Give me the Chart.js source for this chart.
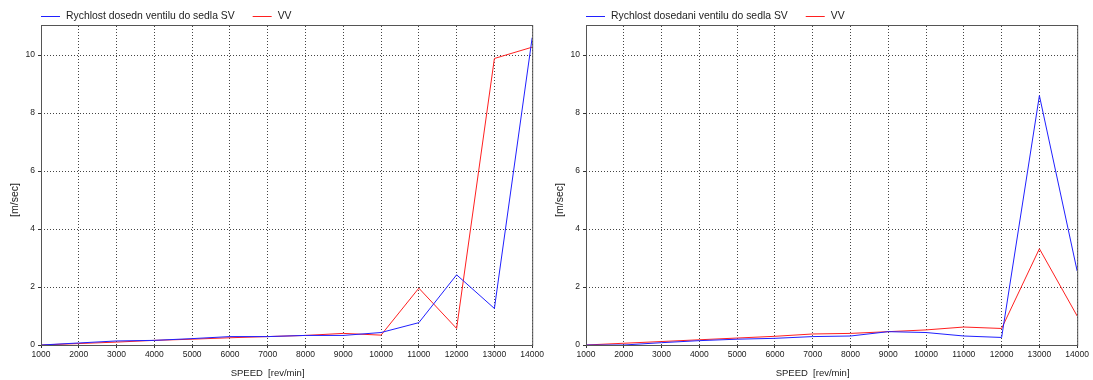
<!DOCTYPE html>
<html>
<head>
<meta charset="utf-8">
<script src="https://cdn.jsdelivr.net/npm/chart.js@4"></script>
<style>
  html, body { margin: 0; padding: 0; background: #fff; }
  #wrap { position: relative; width: 1093px; height: 380px; }
  canvas { position: absolute; top: 0; }
</style>
</head>
<body>
<div id="wrap">
  <canvas id="leftChart" width="546" height="380" style="left:0px"></canvas>
  <canvas id="rightChart" width="546" height="380" style="left:545px"></canvas>
</div>
<script>
// speed axis values (rev/min)
const SPEED = [1000, 2000, 3000, 4000, 5000, 6000, 7000, 8000, 9000, 10000, 11000, 12000, 13000, 14000];

// left chart: Rychlost dosedn ventilu do sedla SV / VV
const LEFT_SV = [0, 0.07, 0.14, 0.16, 0.22, 0.29, 0.29, 0.33, 0.33, 0.43, 0.77, 2.42, 1.26, 10.6];
const LEFT_VV = [0, 0.05, 0.10, 0.16, 0.20, 0.25, 0.29, 0.33, 0.40, 0.34, 1.96, 0.57, 9.88, 10.27];

// right chart: Rychlost dosedani ventilu do sedla SV / VV
const RIGHT_SV = [0, 0.0, 0.08, 0.15, 0.20, 0.23, 0.29, 0.31, 0.46, 0.43, 0.31, 0.26, 8.6, 2.55];
const RIGHT_VV = [0, 0.06, 0.12, 0.18, 0.24, 0.30, 0.38, 0.40, 0.46, 0.52, 0.62, 0.57, 3.32, 1.0];

const Y_TICKS = [0, 2, 4, 6, 8, 10];
const X_TITLE = "SPEED  [rev/min]";
const Y_TITLE = "[m/sec]";
const FONT = "'Liberation Sans', Arial, sans-serif";

function toPoints(values) {
    return SPEED.map((s, i) => ({ x: s, y: values[i] }));
}

// frame around the plot, legend on top left, axis titles
const framePlugin = {
    id: "frame",
    afterDraw(chart) {
        const { ctx, chartArea: a } = chart;
        ctx.save();
        ctx.strokeStyle = "#555";
        ctx.lineWidth = 1;
        ctx.strokeRect(a.left + 0.5, a.top - 0.5, a.right - a.left, a.bottom - a.top + 1);

        ctx.font = "10.4px " + FONT;
        ctx.textBaseline = "middle";
        let x = a.left;
        const y = 16.5;
        chart.data.datasets.forEach((ds) => {
            ctx.strokeStyle = ds.borderColor;
            ctx.beginPath();
            ctx.moveTo(x, y);
            ctx.lineTo(x + 19, y);
            ctx.stroke();
            ctx.fillStyle = "#222";
            ctx.textAlign = "left";
            ctx.fillText(ds.label, x + 25, y);
            x += 25 + ctx.measureText(ds.label).width + 18;
        });

        // axis titles
        ctx.fillStyle = "#222";
        ctx.textAlign = "center";
        ctx.font = "9.5px " + FONT;
        ctx.fillText(X_TITLE, (a.left + a.right) / 2 - 19, 373);
        ctx.translate(15, 200);
        ctx.rotate(-Math.PI / 2);
        ctx.font = "10.5px " + FONT;
        ctx.fillText(Y_TITLE, 0, 0);
        ctx.restore();
    },
};

function makeChart(id, svLabel, sv, vv) {
    const canvas = document.getElementById(id);
    const ctx = canvas.getContext("2d");
    return new Chart(ctx, {
        type: "line",
        data: {
            datasets: [
                {
                    label: svLabel,
                    data: toPoints(sv),
                    borderColor: "#2020ff",
                    borderWidth: 1,
                    pointRadius: 0,
                    tension: 0,
                },
                {
                    label: "VV",
                    data: toPoints(vv),
                    borderColor: "#ff2020",
                    borderWidth: 1,
                    pointRadius: 0,
                    tension: 0,
                },
            ],
        },
        options: {
            responsive: false,
            animation: false,
            layout: { padding: { top: 26, right: 13, left: 0, bottom: 0 } },
            plugins: {
                legend: { display: false },
                tooltip: { enabled: false },
            },
            scales: {
                x: {
                    type: "linear",
                    min: 1000,
                    max: 14000,
                    afterFit: (axis) => { axis.height = 35; },
                    ticks: {
                        stepSize: 1000,
                        color: "#222",
                        font: { family: FONT, size: 8.5 },
                        padding: 2,
                        maxRotation: 0,
                        autoSkip: false,
                        callback: (v) => String(v),
                    },
                    grid: {
                        color: "#444",
                        tickLength: 3,
                        tickColor: "#333",
                        tickBorderDash: [],
                    },
                    border: { display: false, dash: [1, 2] },
                },
                y: {
                    min: 0,
                    max: 11,
                    afterFit: (axis) => { axis.width = 41; },
                    afterBuildTicks: (axis) => {
                        axis.ticks = Y_TICKS.map((v) => ({ value: v }));
                    },
                    ticks: {
                        color: "#222",
                        font: { family: FONT, size: 8.5 },
                        padding: 3,
                        callback: (v) => String(v),
                    },
                    grid: {
                        color: "#444",
                        tickLength: 3,
                        tickColor: "#333",
                        tickBorderDash: [],
                    },
                    border: { display: false, dash: [1, 2] },
                },
            },
        },
        plugins: [framePlugin],
    });
}

window.addEventListener("load", () => {
    makeChart("leftChart", "Rychlost dosedn ventilu do sedla SV", LEFT_SV, LEFT_VV);
    makeChart("rightChart", "Rychlost dosedani ventilu do sedla SV", RIGHT_SV, RIGHT_VV);
});
</script>
</body>
</html>
